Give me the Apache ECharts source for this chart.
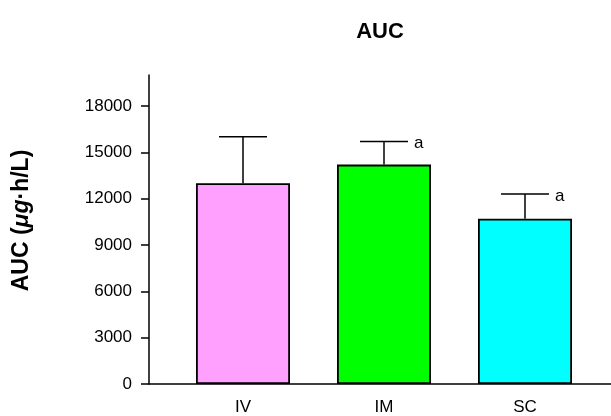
<!DOCTYPE html>
<html>
<head>
<meta charset="utf-8">
<script src="https://cdn.jsdelivr.net/npm/echarts@6/dist/echarts.min.js"></script>
<style>
  html, body { margin: 0; padding: 0; background: #fff; }
  #chart { width: 611px; height: 416px; }
</style>
</head>
<body>
<div id="chart"></div>
<script>
// Routes of administration and their AUC (mean, SD)
const routes = ['IV', 'IM', 'SC'];
const aucMean = [13000, 14200, 10700];
const aucSD = [3000, 1500, 1600];
const sigMarks = ['', 'a', 'a'];
const barColors = ['#FFA0FF', '#00FF00', '#00FFFF'];
const yTicks = [0, 3000, 6000, 9000, 12000, 15000, 18000];

const FONT = 'Liberation Sans, Arial, sans-serif';
const positions = routes.map((_, i) => i + 1);

const barData = routes.map((r, i) => ({
  value: [positions[i], aucMean[i]],
  itemStyle: { color: barColors[i] }
}));
const errData = routes.map((r, i) => [positions[i], aucMean[i], aucMean[i] + aucSD[i]]);

const chart = echarts.init(document.getElementById('chart'), null, { renderer: 'canvas' });
chart.setOption({
  animation: false,
  backgroundColor: '#fff',
  title: {
    text: 'AUC',
    left: 375,
    top: 16,
    textAlign: 'center',
    textStyle: { fontFamily: FONT, fontWeight: 'bold', fontSize: 22, color: '#000' }
  },
  grid: { left: 149, right: 0, top: 75, bottom: 32 },
  xAxis: {
    type: 'value',
    min: 1 - 94 / 141,
    max: 1 + 368 / 141,
    splitLine: { show: false },
    axisLine: { show: true, lineStyle: { color: '#000', width: 1.5 } },
    axisTick: { show: false },
    axisLabel: {
      customValues: positions,
      formatter: v => routes[Math.round(v) - 1] || '',
      margin: 15,
      fontFamily: FONT,
      fontSize: 17,
      color: '#000'
    }
  },
  yAxis: {
    type: 'value',
    min: 0,
    max: 20000,
    splitLine: { show: false },
    axisLine: { show: true, lineStyle: { color: '#000', width: 1.5 } },
    axisTick: { show: true, customValues: yTicks, length: 8, lineStyle: { color: '#000', width: 1.5 } },
    axisLabel: {
      customValues: yTicks,
      formatter: v => String(v),
      margin: 17,
      fontFamily: FONT,
      fontSize: 17,
      color: '#000'
    },
    name: '{b|AUC (}{i|μg}{b|·h/L)}',
    nameLocation: 'middle',
    nameGap: 116,
    nameRotate: 90,
    nameTextStyle: {
      padding: [0, 0, 0, 18],
      rich: {
        b: { fontFamily: FONT, fontWeight: 'bold', fontSize: 23, color: '#000' },
        i: { fontFamily: FONT, fontWeight: 'bold', fontStyle: 'italic', fontSize: 23, color: '#000' }
      }
    }
  },
  series: [
    {
      type: 'custom',
      z: 1,
      data: errData,
      renderItem: function (params, api) {
        const x = api.value(0);
        const base = api.coord([x, api.value(1)]);
        const top = api.coord([x, api.value(2)]);
        const mark = sigMarks[params.dataIndex];
        const style = { stroke: '#000', lineWidth: 1.5 };
        const children = [
          { type: 'line', shape: { x1: top[0], y1: base[1], x2: top[0], y2: top[1] }, style },
          { type: 'line', shape: { x1: top[0] - 24, y1: top[1], x2: top[0] + 24, y2: top[1] }, style }
        ];
        if (mark) {
          children.push({
            type: 'text',
            style: {
              text: mark, x: top[0] + 30, y: top[1] + 2,
              textAlign: 'left', textVerticalAlign: 'middle',
              font: '17px ' + FONT, fill: '#000'
            }
          });
        }
        return { type: 'group', children };
      }
    },
    {
      type: 'bar',
      z: 2,
      barWidth: 94,
      data: barData,
      itemStyle: { borderColor: '#000', borderWidth: 1.8 }
    }
  ]
});
</script>
</body>
</html>
